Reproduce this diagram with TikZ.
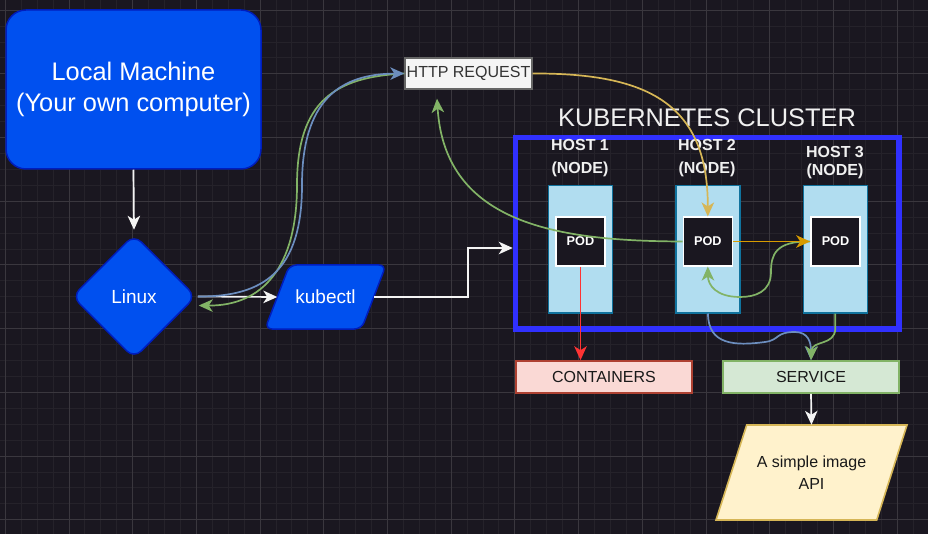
\documentclass[tikz,border=0pt]{standalone}
\usepackage{fontspec}
\setmainfont{Liberation Sans}
\usetikzlibrary{arrows.meta,shapes.geometric,calc}
\newcommand\myfs[2]{\fontsize{#1}{#2}\selectfont}
\definecolor{bgcol}{HTML}{1A1720}
\definecolor{minorgrid}{HTML}{25222A}
\definecolor{majorgrid}{HTML}{3A373E}
\definecolor{lmblue}{HTML}{0050EF}
\definecolor{lmstroke}{HTML}{001DBC}
\definecolor{hostfill}{HTML}{B1DDF0}
\definecolor{hoststroke}{HTML}{10739E}
\definecolor{contfill}{HTML}{FAD9D5}
\definecolor{contstroke}{HTML}{AE4132}
\definecolor{servfill}{HTML}{D5E8D4}
\definecolor{servstroke}{HTML}{82B366}
\definecolor{apifill}{HTML}{FFF2CC}
\definecolor{apistroke}{HTML}{D6B656}
\definecolor{httpfill}{HTML}{F5F5F5}
\definecolor{httpstroke}{HTML}{666666}
\definecolor{httptext}{HTML}{333333}
\definecolor{clusterblue}{HTML}{3030FF}
\definecolor{eblue}{HTML}{6C8EBF}
\definecolor{egreen}{HTML}{82B366}
\definecolor{eyellow}{HTML}{D6B656}
\definecolor{eorange}{HTML}{D79B00}
\definecolor{ered}{HTML}{FF3333}
\definecolor{ewhite}{HTML}{F4F4F4}
\definecolor{labtext}{HTML}{F0F0F0}
\tikzset{
  bluebox/.style={fill=lmblue, draw=lmstroke, line width=1.5pt, text=white},
  hostbox/.style={fill=hostfill, draw=hoststroke, line width=1.6pt, minimum width=64, minimum height=127, inner sep=0},
  podbox/.style={fill=bgcol, draw=white, line width=1.6pt, minimum width=49, minimum height=48.5, inner sep=0, text=white, font=\bfseries\myfs{12.7}{15}},
  hostlab/.style={text=labtext, align=center, font=\bfseries\myfs{16}{23}},
  flatbox/.style={line width=1.6pt, minimum width=176, minimum height=32, inner sep=0, text=black!90, font=\myfs{16}{19}},
  conn/.style={line width=1.7pt, -{Stealth[length=14pt,width=12.5pt,inset=4pt]}},
  wconn/.style={conn, draw=ewhite},
  bconn/.style={conn, draw=eblue},
  gconn/.style={conn, draw=egreen},
  yconn/.style={conn, draw=eyellow},
  oconn/.style={conn, draw=eorange},
  rconn/.style={conn, draw=ered},
}
\begin{document}
\begin{tikzpicture}[x=1pt,y=-1pt]
\useasboundingbox (0,0) rectangle (928,534);
\fill[bgcol] (0,0) rectangle (928,534);
% grid
\foreach \i in {0,...,57}{
  \pgfmathsetmacro\xx{5.3+15.925*\i}
  \draw[minorgrid, line width=1pt] (\xx,0) -- (\xx,534);
}
\foreach \j in {0,...,32}{
  \pgfmathsetmacro\yy{10.2+15.925*\j}
  \draw[minorgrid, line width=1pt] (0,\yy) -- (928,\yy);
}
\foreach \i in {0,...,14}{
  \pgfmathsetmacro\xx{5.3+63.7*\i}
  \draw[majorgrid, line width=1pt] (\xx,0) -- (\xx,534);
}
\foreach \j in {0,...,8}{
  \pgfmathsetmacro\yy{10.2+63.7*\j}
  \draw[majorgrid, line width=1pt] (0,\yy) -- (928,\yy);
}

% local machine
\node[bluebox, rounded corners=20pt, minimum width=255, minimum height=159, inner sep=0, align=center, font=\myfs{25.4}{31}] (local) at (133.5,89.5) {Local Machine\\(Your own computer)};

% linux diamond
\node[bluebox, diamond, minimum width=124, minimum height=124, inner sep=0, rounded corners=10pt, font=\myfs{19}{22}] (linux) at (134,296.5) {Linux};

% kubectl parallelogram
\draw[bluebox, rounded corners=7pt] (289.5,265) -- (386,265) -- (361.5,329) -- (265,329) -- cycle;
\node[text=white, minimum width=96, minimum height=64, inner sep=0, font=\myfs{19}{22}] (kub) at (325.5,297) {kubectl};

% http request
\node[draw=httpstroke, fill=httpfill, text=httptext, line width=1.4pt, minimum width=127, minimum height=31, inner sep=0, font=\myfs{16}{19}] (http) at (468.5,73.5) {HTTP REQUEST};

% cluster
\node[text=labtext, font=\myfs{25.4}{30}] (title) at (707,118) {KUBERNETES CLUSTER};
\node[draw=clusterblue, line width=5.5pt, minimum width=383.5, minimum height=191.5, inner sep=0] (cluster) at (707.25,233.25) {};

\node[hostbox] (host1) at (580.3,249.2) {};
\node[hostbox] (host2) at (708,249.2) {};
\node[hostbox] (host3) at (835.3,249.2) {};
\node[hostlab] (h1lab) at (580,158.5) {HOST 1\\(NODE)};
\node[hostlab] (h2lab) at (707,158) {HOST 2\\(NODE)};
\node[hostlab, font=\bfseries\myfs{16}{18}] (h3lab) at (835,163) {HOST 3\\(NODE)};
\node[podbox] (pod1) at (580.5,241.5) {POD};
\node[podbox] (pod2) at (707.8,241.5) {POD};
\node[podbox] (pod3) at (835.5,241.5) {POD};

% bottom boxes
\node[flatbox, fill=contfill, draw=contstroke] (containers) at (604,377) {CONTAINERS};
\node[flatbox, fill=servfill, draw=servstroke] (service) at (811,377) {SERVICE};

% api parallelogram
\draw[fill=apifill, draw=apistroke, line width=1.6pt] (746.7,425) -- (907,425) -- (876.7,520) -- (716,520) -- cycle;
\node[minimum width=160, minimum height=95, inner sep=0, align=center, text=black!90, font=\myfs{16}{22.3}] (api) at (811.5,472.5) {A simple image\\API};

% connectors
\draw[wconn] (local.south) -- ($(linux.north)+(0,-4)$);
\draw[wconn] ($(linux.east)+(1,0)$) -- (kub.west);
\coordinate (bend) at (468,248);
\draw[wconn] (kub.east) -| (bend) -- (bend -| cluster.west);

\draw[gconn] (http.west) .. controls (336,77) and (297,100) .. (297,185) .. controls (297,268) and (262,306) .. ($(linux.east)+(2,9)$);
\draw[bconn] ($(linux.east)+(1,0)$) .. controls (265,297) and (302,270) .. (302,185) .. controls (302,100) and (340,74) .. (http.west);

\draw[yconn] (http.east) .. controls (650,73) and (708,105) .. (pod2.north);
\draw[gconn] (pod2.west) .. controls (560,241) and (445,225) .. ($(http.south)+(-31.5,9)$);

\draw[gconn] (pod3.west) .. controls (775,241) and (771,255) .. (771,272) .. controls (771,292) and (755,297) .. (740,297) .. controls (716,297) and (708,285) .. (pod2.south);
\draw[oconn] (pod2.east) -- (pod3.west);

\draw[rconn] (pod1.south) -- (pod1.south |- containers.north);

\draw[bconn] (host2.south) .. controls (708,345) and (735,346) .. (765,342) .. controls (780,340) and (775,332) .. (795,332) .. controls (808,332) and (811,342) .. (service.north);
\draw[gconn] (host3.south) -- ++(0,15) .. controls (835,346) and (812,340) .. (service.north);

\draw[wconn] (service.south) -- (api.north);
\end{tikzpicture}
\end{document}
